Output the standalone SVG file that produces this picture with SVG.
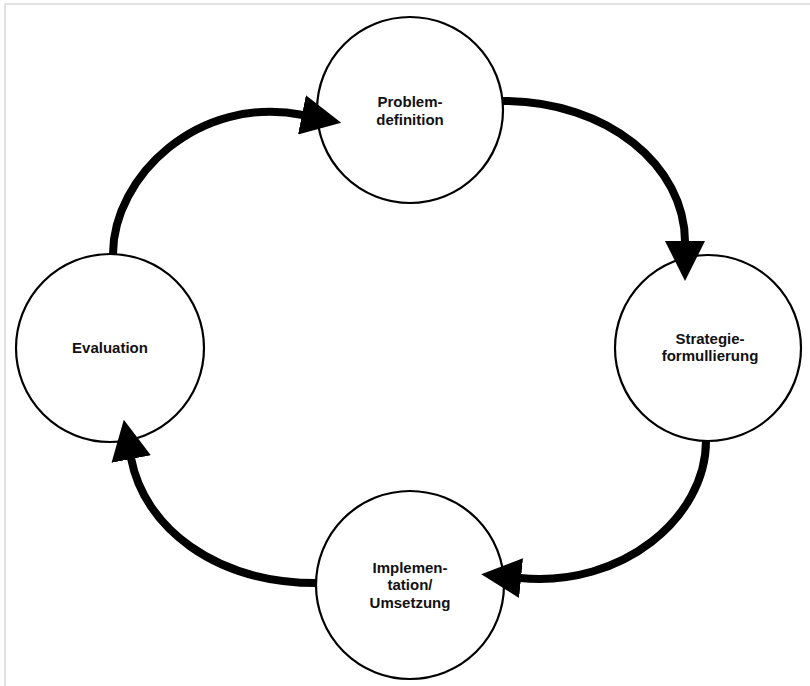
<svg xmlns="http://www.w3.org/2000/svg" width="810" height="686" viewBox="0 0 810 686">
<defs>
<style>
.node circle{fill:#fff;stroke:#000;stroke-width:2.2}
.node text{font-family:"Liberation Sans",Arial,sans-serif;font-weight:bold;font-size:15px;fill:#111;text-anchor:middle}
.conn path{fill:none;stroke:#000;stroke-width:8;stroke-linecap:butt}
.frame{stroke:#e2e2e2;stroke-width:2;fill:none}
</style>
<marker id="ah" markerUnits="userSpaceOnUse" markerWidth="40" markerHeight="40" viewBox="0 0 38 38" refX="1" refY="19" orient="auto">
<path d="M0,0 L38,19 L0,38 Z" fill="#000"/>
</marker>
</defs>
<rect width="810" height="686" fill="#fff"/>
<path class="frame" d="M5,686 V4 H810"/>
<g id="problemdefinition" class="node">
<circle cx="410" cy="110" r="93"/>
<text x="410" y="107">Problem-</text>
<text x="410" y="125">definition</text>
</g>
<g id="strategieformullierung" class="node">
<circle cx="708" cy="348" r="93"/>
<text x="710" y="344">Strategie-</text>
<text x="710" y="361">formullierung</text>
</g>
<g id="implementation" class="node">
<circle cx="410" cy="585" r="94"/>
<text x="410" y="573">Implemen-</text>
<text x="410" y="590">tation/</text>
<text x="410" y="608">Umsetzung</text>
</g>
<g id="evaluation" class="node">
<circle cx="110" cy="348" r="94"/>
<text x="110" y="353">Evaluation</text>
</g>
<g id="connectors" class="conn">
<path d="M503,101 C608,101 685,166 685,242" marker-end="url(#ah)"/>
<path d="M706,441 C706,517 623,588 520,578" marker-end="url(#ah)"/>
<path d="M317,583 C214,583 144,527 131,458" marker-end="url(#ah)"/>
<path d="M113,254 C113,177 198,94 303,115" marker-end="url(#ah)"/>
</g>
</svg>
